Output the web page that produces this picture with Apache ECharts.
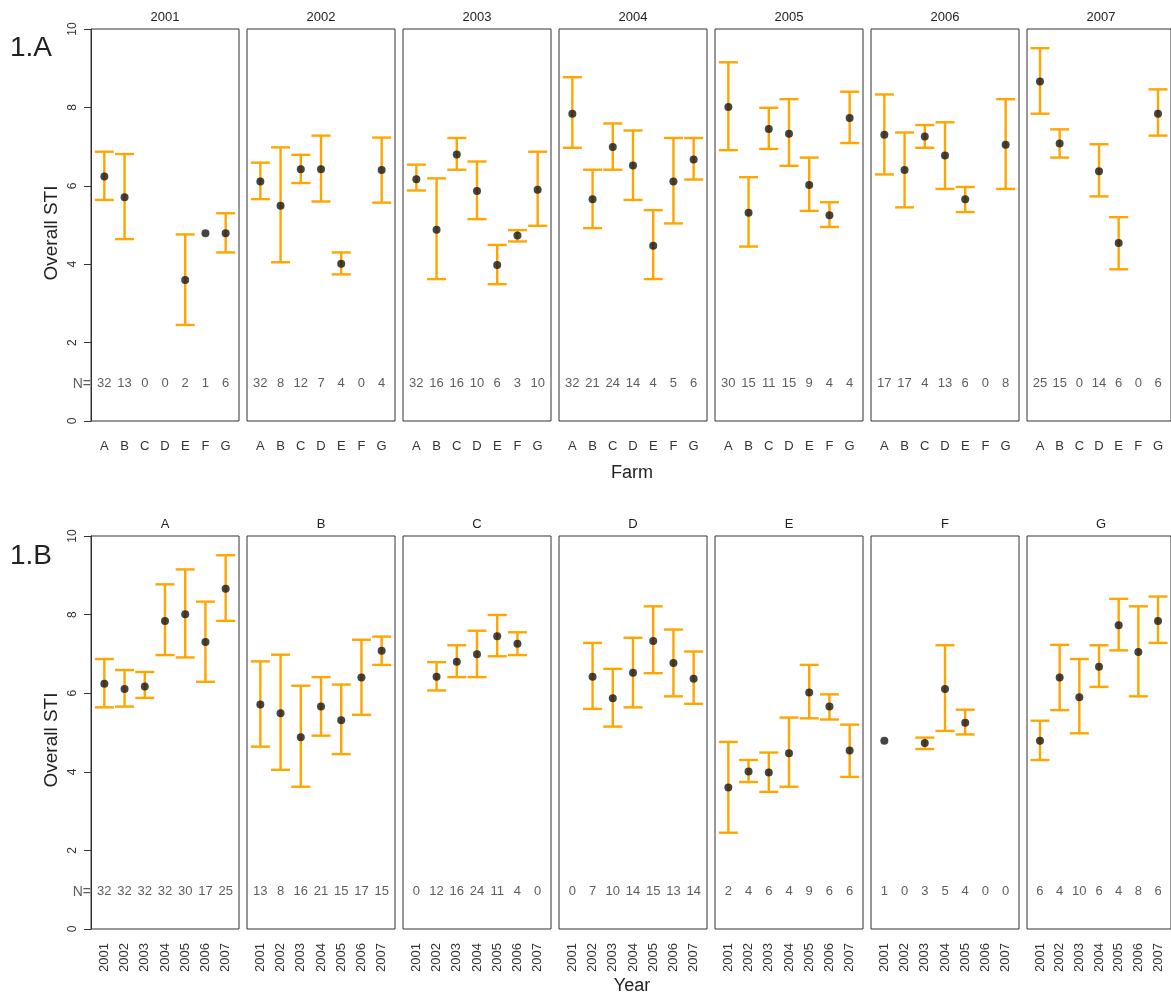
<!DOCTYPE html>
<html><head><meta charset="utf-8">
<script src="https://cdn.jsdelivr.net/npm/echarts@6/dist/echarts.min.js"></script>
<style>html,body{margin:0;padding:0;background:#fff}#c{width:1171px;height:994px}</style>
</head><body><div id="c"></div>
<script>
const farms = ['A','B','C','D','E','F','G'];
const years = ['2001','2002','2003','2004','2005','2006','2007'];
const yTicks = [0,2,4,6,8,10];
// rows = years (2001..2007), columns = farms (A..G); null = no data
const stiMean = [
  [6.24, 5.71, null, null, 3.60, 4.79, 4.79],
  [6.11, 5.49, 6.42, 6.42, 4.01, null, 6.40],
  [6.17, 4.88, 6.80, 5.87, 3.98, 4.73, 5.90],
  [7.84, 5.66, 6.99, 6.52, 4.47, 6.11, 6.67],
  [8.01, 5.31, 7.45, 7.33, 6.02, 5.25, 7.73],
  [7.30, 6.40, 7.26, 6.77, 5.66, null, 7.05],
  [8.66, 7.08, null, 6.37, 4.54, null, 7.84]
];
const stiLow = [
  [5.64, 4.64, null, null, 2.45, null, 4.30],
  [5.66, 4.05, 6.07, 5.60, 3.74, null, 5.57],
  [5.88, 3.62, 6.41, 5.15, 3.49, 4.58, 4.98],
  [6.97, 4.92, 6.41, 5.64, 3.62, 5.04, 6.16],
  [6.91, 4.45, 6.94, 6.51, 5.36, 4.95, 7.09],
  [6.29, 5.45, 6.97, 5.92, 5.33, null, 5.92],
  [7.84, 6.72, null, 5.73, 3.87, null, 7.28]
];
const stiHigh = [
  [6.87, 6.81, null, null, 4.76, null, 5.30],
  [6.59, 6.98, 6.79, 7.28, 4.30, null, 7.23],
  [6.54, 6.19, 7.22, 6.62, 4.49, 4.87, 6.87],
  [8.77, 6.41, 7.59, 7.41, 5.38, 7.22, 7.22],
  [9.15, 6.22, 7.99, 8.21, 6.72, 5.58, 8.40],
  [8.33, 7.36, 7.55, 7.62, 5.97, null, 8.21],
  [9.51, 7.44, null, 7.06, 5.20, null, 8.46]
];
const nCount = [
  [32, 13, 0, 0, 2, 1, 6],
  [32, 8, 12, 7, 4, 0, 4],
  [32, 16, 16, 10, 6, 3, 10],
  [32, 21, 24, 14, 4, 5, 6],
  [30, 15, 11, 15, 9, 4, 4],
  [17, 17, 4, 13, 6, 0, 8],
  [25, 15, 0, 14, 6, 0, 6]
];

const FONT = '"Liberation Sans", Arial, sans-serif';
const ORANGE = '#FFA500';
const TXT = '#333';
const PL = 91, PSTEP = 156, PW = 148;
const rows = [{top:29, height:392}, {top:536, height:393}];
const N_Y = 0.95;

const grid = [], xAxis = [], yAxis = [], series = [], graphic = [];

for (let p = 0; p < 14; p++) {
  const r = p < 7 ? 0 : 1, k = p % 7;
  const left = PL + k * PSTEP;
  grid.push({left: left, top: rows[r].top, width: PW, height: rows[r].height,
    show: true, borderColor: '#333', borderWidth: 1, backgroundColor: 'transparent'});
  const labels = r === 0 ? farms : years;
  xAxis.push({type: 'value', gridIndex: p, min: 0.34, max: 7.66,
    axisLine: {show: false}, axisTick: {show: false}, splitLine: {show: false},
    axisLabel: {show: true, customValues: [1,2,3,4,5,6,7],
      formatter: v => labels[Math.round(v) - 1] || '',
      rotate: r === 0 ? 0 : 90, margin: r === 0 ? 19 : 14,
      fontSize: 13, color: TXT, fontFamily: FONT}});
  const first = k === 0;
  yAxis.push({type: 'value', gridIndex: p, min: 0, max: 10, interval: 2,
    axisLine: {show: first, lineStyle: {color: '#333', width: 1}},
    axisTick: {show: first, length: 7, lineStyle: {color: '#333'}},
    splitLine: {show: false},
    axisLabel: {show: first, rotate: 90, margin: 12, fontSize: 12, color: TXT, fontFamily: FONT,
      customValues: yTicks}});

  const pts = [], bars = [], ns = [];
  for (let j = 0; j < 7; j++) {
    const yi = r === 0 ? k : j, fi = r === 0 ? j : k;
    const m = stiMean[yi][fi], lo = stiLow[yi][fi], hi = stiHigh[yi][fi];
    if (m != null) pts.push([j + 1, m]);
    if (lo != null && hi != null) bars.push([j + 1, lo, hi]);
    ns.push([j + 1, N_Y, nCount[yi][fi]]);
  }
  series.push({type: 'custom', xAxisIndex: p, yAxisIndex: p, z: 2, silent: true,
    data: bars,
    renderItem: function (params, api) {
      const x = api.value(0);
      const a = api.coord([x, api.value(1)]);
      const b = api.coord([x, api.value(2)]);
      const w = 9.5, st = {stroke: ORANGE, lineWidth: 2.4};
      return {type: 'group', children: [
        {type: 'line', shape: {x1: a[0], y1: a[1], x2: b[0], y2: b[1]}, style: st},
        {type: 'line', shape: {x1: a[0] - w, y1: a[1], x2: a[0] + w, y2: a[1]}, style: st},
        {type: 'line', shape: {x1: b[0] - w, y1: b[1], x2: b[0] + w, y2: b[1]}, style: st}
      ]};
    }});
  series.push({type: 'scatter', xAxisIndex: p, yAxisIndex: p, z: 3, silent: true,
    data: pts, symbol: 'circle', symbolSize: 8, itemStyle: {color: '#161616'}});
  series.push({type: 'scatter', xAxisIndex: p, yAxisIndex: p, z: 3, silent: true,
    data: ns, symbolSize: 0.1, itemStyle: {color: 'rgba(0,0,0,0)'},
    label: {show: true, position: 'inside', formatter: q => String(q.value[2]),
      fontSize: 13, color: TXT, fontFamily: FONT}});
  if (first) {
    series.push({type: 'scatter', xAxisIndex: p, yAxisIndex: p, z: 3, silent: true,
      data: [[0.34, N_Y]], symbolSize: 0.1, itemStyle: {color: 'rgba(0,0,0,0)'},
      label: {show: true, position: 'left', distance: 0, formatter: 'N=',
        fontSize: 14, color: TXT, fontFamily: FONT}});
  }
  graphic.push({type: 'text', x: left + PW / 2, y: rows[r].top - 12,
    style: {text: r === 0 ? years[k] : farms[k], textAlign: 'center', textVerticalAlign: 'middle',
      fontSize: 13, fill: '#222', fontFamily: FONT}});
}

graphic.push({type: 'text', x: 10, y: 48, style: {text: '1.A', fontSize: 28, fill: '#222',
  fontFamily: FONT, textVerticalAlign: 'middle'}});
graphic.push({type: 'text', x: 10, y: 556, style: {text: '1.B', fontSize: 28, fill: '#222',
  fontFamily: FONT, textVerticalAlign: 'middle'}});
graphic.push({type: 'text', x: 632, y: 473, style: {text: 'Farm', fontSize: 18, fill: '#222',
  fontFamily: FONT, textAlign: 'center', textVerticalAlign: 'middle'}});
graphic.push({type: 'text', x: 632, y: 986, style: {text: 'Year', fontSize: 18, fill: '#222',
  fontFamily: FONT, textAlign: 'center', textVerticalAlign: 'middle'}});
graphic.push({type: 'text', x: 52, y: 233, rotation: Math.PI / 2, style: {text: 'Overall STI',
  fontSize: 19, fill: '#222', fontFamily: FONT, textAlign: 'center', textVerticalAlign: 'middle'}});
graphic.push({type: 'text', x: 52, y: 740, rotation: Math.PI / 2, style: {text: 'Overall STI',
  fontSize: 19, fill: '#222', fontFamily: FONT, textAlign: 'center', textVerticalAlign: 'middle'}});

const chart = echarts.init(document.getElementById('c'), null, {renderer: 'canvas'});
chart.setOption({animation: false, backgroundColor: '#fff', grid, xAxis, yAxis, series, graphic});
</script></body></html>
